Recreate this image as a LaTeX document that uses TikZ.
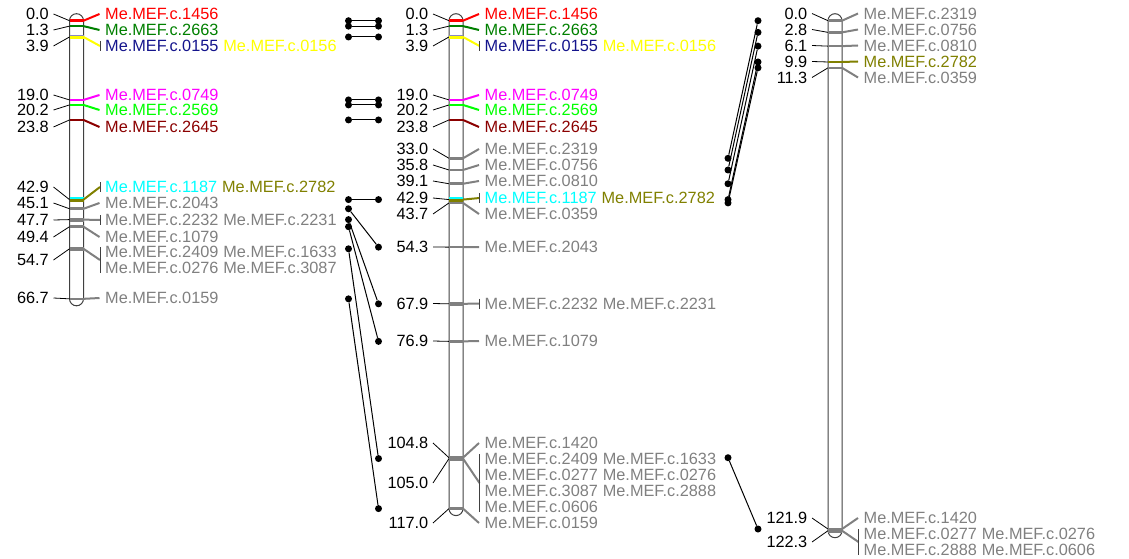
\documentclass[tikz,border=0pt]{standalone}
\usepackage{fontspec}
\setmainfont{Liberation Sans}
\usetikzlibrary{positioning}

\definecolor{mRed}{RGB}{255,0,0}
\definecolor{mGreen}{RGB}{0,128,0}
\definecolor{mNavy}{RGB}{20,20,140}
\definecolor{mYellow}{RGB}{255,255,0}
\definecolor{mMagenta}{RGB}{255,0,255}
\definecolor{mLime}{RGB}{0,255,0}
\definecolor{mDarkred}{RGB}{139,0,0}
\definecolor{mCyan}{RGB}{0,255,255}
\definecolor{mOlive}{RGB}{128,128,0}
\definecolor{mGray}{RGB}{128,128,128}

\newcommand{\lblfont}{\fontsize{16.3}{19}\selectfont}

\tikzset{
  chrom/.style={draw=black!75, line width=1pt, rounded corners=7pt},
  mtick/.style={line width=2.6pt},
  lead/.style={line width=2pt},
  numlead/.style={draw=black, line width=0.8pt},
  gbar/.style={draw=black!75, line width=1pt},
  numlbl/.style={anchor=east, inner sep=0pt, font=\lblfont},
  mlbl/.style={anchor=west, inner sep=0pt, font=\lblfont},
  linkdot/.style={circle, fill=black, inner sep=0pt, minimum size=7pt},
  linkline/.style={draw=black, line width=1pt},
}

% one marker: left x, position, label y, colour, marker no, prefix
\newcommand{\onemkr}[6]{%
  \pgfmathsetmacro{\ty}{20.7+4.17*#2}%
  \node[numlbl] (#6n#5) at (#1-20.5,#3) {#2};
  \node[mlbl,text=#4] (#6m#5) at (#1+35.5,#3) {Me.MEF.c.#5};
  \draw[numlead] ([xshift=4.5pt]#6n#5.east) -- (#1,\ty);
  \draw[mtick,color=#4] (#1,\ty) -- ++(14,0);
  \draw[lead,color=#4] (#1+14,\ty) -- ([xshift=-5.5pt]#6m#5.west);
}

% marker group: left x, position, centre y, first line y, last line y, lead colour, upper colour, name
\newcommand{\grpmkr}[8]{%
  \pgfmathsetmacro{\ty}{20.7+4.17*#2}%
  \node[numlbl] (#8n) at (#1-20.5,#3) {#2};
  \coordinate (#8g) at (#1+30.5,#3);
  \draw[numlead] ([xshift=4.5pt]#8n.east) -- (#1,\ty);
  \draw[mtick,color=#7] (#1,\ty-0.8) -- ++(14,0);
  \draw[mtick,color=#6] (#1,\ty+0.8) -- ++(14,0);
  \draw[lead,color=#6] (#1+14,\ty) -- (#8g);
  \draw[gbar] (#1+30.5,#4-5) -- (#1+30.5,#5+5);
}

\begin{document}
\begin{tikzpicture}[x=1pt, y=-1pt]
    \useasboundingbox (0,0) rectangle (1129,559);

    % chromosomes
    \draw[chrom] (69.5,13.7) rectangle (83.5,305.8);
    \draw[chrom] (449,13.7) rectangle (463,515.6);
    \draw[chrom] (828,13.7) rectangle (842,537.7);

    % chromosome 1
    \foreach \pos/\ly/\col/\mk in {0.0/14/mRed/1456, 1.3/30/mGreen/2663,
        19.0/95/mMagenta/0749, 20.2/110/mLime/2569, 23.8/127/mDarkred/2645,
        45.1/203/mGray/2043, 49.4/237/mGray/1079, 66.7/298/mGray/0159} {
        \onemkr{69.5}{\pos}{\ly}{\col}{\mk}{A}
    }
    \grpmkr{69.5}{3.9}{46}{46}{46}{mYellow}{mNavy!50}{Aa}
    \node[mlbl,text=mNavy] (A0155) at (105,46) {Me.MEF.c.0155};
    \node[mlbl,text=mYellow,right=4.5pt of A0155] (A0156) {Me.MEF.c.0156};
    \grpmkr{69.5}{42.9}{187}{187}{187}{mOlive}{mCyan}{Ab}
    \node[mlbl,text=mCyan] (A1187) at (105,187) {Me.MEF.c.1187};
    \node[mlbl,text=mOlive,right=4.5pt of A1187] (A2782) {Me.MEF.c.2782};
    \grpmkr{69.5}{47.7}{220}{220}{220}{mGray}{mGray}{Ac}
    \node[mlbl,text=mGray] (A2232) at (105,220) {Me.MEF.c.2232};
    \node[mlbl,text=mGray,right=4.5pt of A2232] (A2231) {Me.MEF.c.2231};
    \grpmkr{69.5}{54.7}{260}{252}{268}{mGray}{mGray}{Ad}
    \node[mlbl,text=mGray] (A2409) at (105,252) {Me.MEF.c.2409};
    \node[mlbl,text=mGray,right=4.5pt of A2409] (A1633) {Me.MEF.c.1633};
    \node[mlbl,text=mGray] (A0276) at (105,268) {Me.MEF.c.0276};
    \node[mlbl,text=mGray,right=4.5pt of A0276] (A3087) {Me.MEF.c.3087};

    % chromosome 2
    \foreach \pos/\ly/\col/\mk in {0.0/14/mRed/1456, 1.3/30/mGreen/2663,
        19.0/95/mMagenta/0749, 20.2/110/mLime/2569, 23.8/127/mDarkred/2645,
        33.0/149/mGray/2319, 35.8/165/mGray/0756, 39.1/181/mGray/0810,
        43.7/214/mGray/0359, 54.3/247/mGray/2043, 76.9/341/mGray/1079,
        104.8/443/mGray/1420, 117.0/523/mGray/0159} {
        \onemkr{449}{\pos}{\ly}{\col}{\mk}{B}
    }
    \grpmkr{449}{3.9}{46}{46}{46}{mYellow}{mNavy!50}{Ba}
    \node[mlbl,text=mNavy] (B0155) at (484.5,46) {Me.MEF.c.0155};
    \node[mlbl,text=mYellow,right=4.5pt of B0155] (B0156) {Me.MEF.c.0156};
    \grpmkr{449}{42.9}{198}{198}{198}{mOlive}{mCyan}{Bb}
    \node[mlbl,text=mCyan] (B1187) at (484.5,198) {Me.MEF.c.1187};
    \node[mlbl,text=mOlive,right=4.5pt of B1187] (B2782) {Me.MEF.c.2782};
    \grpmkr{449}{67.9}{303.5}{303.5}{303.5}{mGray}{mGray}{Bc}
    \node[mlbl,text=mGray] (B2232) at (484.5,303.5) {Me.MEF.c.2232};
    \node[mlbl,text=mGray,right=4.5pt of B2232] (B2231) {Me.MEF.c.2231};
    \grpmkr{449}{105.0}{483}{459}{507}{mGray}{mGray}{Bd}
    \node[mlbl,text=mGray] (B2409) at (484.5,459) {Me.MEF.c.2409};
    \node[mlbl,text=mGray,right=4.5pt of B2409] (B1633) {Me.MEF.c.1633};
    \node[mlbl,text=mGray] (B0277) at (484.5,475) {Me.MEF.c.0277};
    \node[mlbl,text=mGray,right=4.5pt of B0277] (B0276) {Me.MEF.c.0276};
    \node[mlbl,text=mGray] (B3087) at (484.5,491) {Me.MEF.c.3087};
    \node[mlbl,text=mGray,right=4.5pt of B3087] (B2888) {Me.MEF.c.2888};
    \node[mlbl,text=mGray] (B0606) at (484.5,507) {Me.MEF.c.0606};

    % chromosome 3
    \foreach \pos/\ly/\col/\mk in {0.0/13.5/mGray/2319, 2.8/29.5/mGray/0756,
        6.1/45.5/mGray/0810, 9.9/61.5/mOlive/2782, 11.3/77.5/mGray/0359,
        121.9/518/mGray/1420} {
        \onemkr{828}{\pos}{\ly}{\col}{\mk}{C}
    }
    \grpmkr{828}{122.3}{542}{534}{550}{mGray}{mGray}{Ca}
    \node[mlbl,text=mGray] (C0277) at (863.5,534) {Me.MEF.c.0277};
    \node[mlbl,text=mGray,right=4.5pt of C0277] (C0276) {Me.MEF.c.0276};
    \node[mlbl,text=mGray] (C2888) at (863.5,550) {Me.MEF.c.2888};
    \node[mlbl,text=mGray,right=4.5pt of C2888] (C0606) {Me.MEF.c.0606};

    % links chromosome 1 - 2
    \foreach \ya/\yb [count=\i] in {0.0/0.0, 1.3/1.3, 3.9/3.9, 19.0/19.0,
        20.2/20.2, 23.8/23.8, 42.9/42.9, 45.1/54.3, 47.7/67.9, 49.4/76.9,
        54.7/105.0, 66.7/117.0} {
        \node[linkdot] (u\i) at (348.5,{20.7+4.17*\ya}) {};
        \node[linkdot] (v\i) at (378.5,{20.7+4.17*\yb}) {};
        \draw[linkline] (u\i) -- (v\i);
    }

    % links chromosome 2 - 3
    \foreach \ya/\yb [count=\i] in {33.0/0.0, 35.8/2.8, 39.1/6.1, 42.9/9.9,
        43.7/11.3, 104.8/121.9} {
        \node[linkdot] (w\i) at (728,{20.7+4.17*\ya}) {};
        \node[linkdot] (z\i) at (758,{20.7+4.17*\yb}) {};
        \draw[linkline] (w\i) -- (z\i);
    }
\end{tikzpicture}
\end{document}
